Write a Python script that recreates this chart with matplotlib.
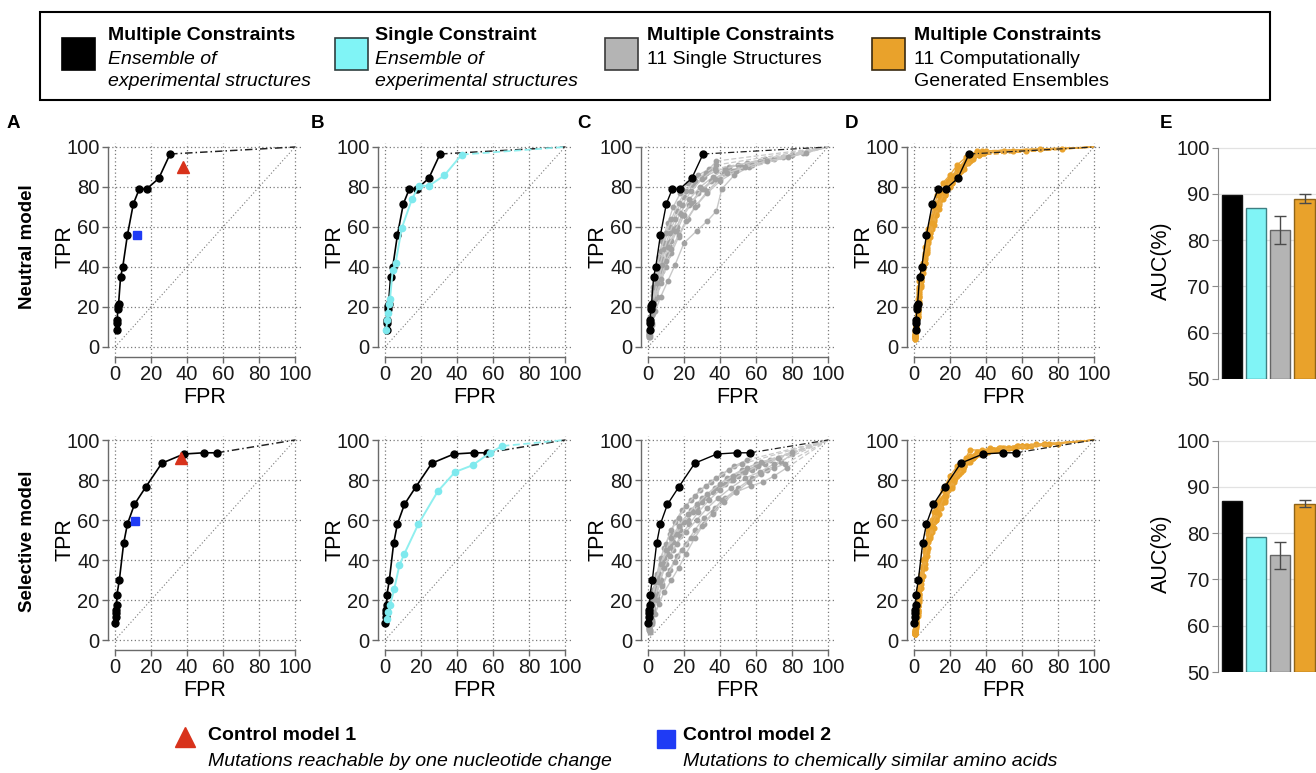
import matplotlib
matplotlib.use("Agg")
import matplotlib.pyplot as plt
import matplotlib.patches as patches
from matplotlib.lines import Line2D

plt.rcParams['font.family'] = ['Liberation Sans', 'DejaVu Sans']

W, H = 1316, 773

# ---------------- data ----------------
TICKS = [0, 20, 40, 60, 80, 100]
END_POINT = (100, 100)

# Multiple constraints, ensemble of experimental structures (black)
BLACK_NEU_FPR = [0.9, 1.1, 1.3, 1.5, 1.8, 2.0, 3.1, 4.3, 6.9, 10.2, 13.5, 17.6, 24.3, 30.6]
BLACK_NEU_TPR = [8.7, 12.0, 13.7, 19.2, 20.4, 21.7, 35.0, 40.0, 56.0, 71.6, 79.0, 79.0, 84.3, 96.5]
BLACK_SEL_FPR = [0.2, 0.4, 0.6, 0.7, 0.9, 1.1, 2.4, 4.8, 6.9, 10.8, 17.1, 26.0, 38.3, 49.3, 56.7]
BLACK_SEL_TPR = [8.6, 11.4, 13.4, 14.8, 17.3, 22.7, 29.9, 48.3, 58.0, 67.8, 76.5, 88.4, 93.0, 93.6, 93.6]

# Single constraint (cyan)
CYAN_NEU_FPR = [0.6, 1.3, 1.5, 2.0, 2.8, 4.3, 5.9, 9.3, 15.0, 18.9, 24.4, 33.0, 42.6]
CYAN_NEU_TPR = [8.7, 13.4, 17.0, 21.7, 24.2, 38.5, 42.0, 59.4, 74.0, 80.6, 80.6, 85.8, 96.2]
CYAN_SEL_FPR = [1.3, 1.9, 2.8, 5.2, 8.0, 10.7, 18.5, 29.3, 38.9, 48.7, 58.3, 65.2]
CYAN_SEL_TPR = [10.6, 13.9, 17.3, 25.7, 37.4, 43.0, 57.9, 74.3, 84.0, 87.4, 93.6, 97.0]

# Control models (red triangle, blue square)
CTRL1_NEU = (38.0, 90.0)
CTRL2_NEU = (12.4, 56.0)
CTRL1_SEL = (36.8, 90.8)
CTRL2_SEL = (11.0, 59.4)

# Multiple constraints, 11 single structures (gray)
GRAY_NEU_FPR = [
    [0.5, 1, 2, 3, 4, 6, 8, 11, 14, 18, 22, 28, 34, 38],
    [0.5, 1, 2, 3, 5, 7, 9, 12, 16, 20, 25, 31, 38, 45, 55, 65, 75, 86],
    [0.5, 1, 2, 4, 6, 8, 11, 14, 18, 23, 29, 36, 43, 50],
    [0.5, 1, 2, 4, 6, 9, 12, 16, 20, 25, 31, 37, 44],
    [1, 2, 4, 7, 11, 15, 20, 27, 33, 38, 41, 48, 56],
    [0.5, 1, 3, 5, 8, 11, 13, 16, 19, 23, 28, 35, 42, 52, 62],
    [0.5, 1, 2, 3, 5, 7, 10, 13, 17, 21, 26, 32, 38],
    [1, 2, 3, 5, 7, 10, 13, 17, 22, 27, 33, 40, 47, 58, 70, 80],
    [0.5, 1, 2, 4, 6, 9, 12, 15, 19, 24, 30, 37],
    [0.5, 1, 2, 4, 7, 10, 13, 17, 21, 26, 33, 40, 49],
    [1, 2, 3, 5, 8, 11, 15, 19, 24, 30, 37, 44, 54, 66, 78, 88],
]
GRAY_NEU_TPR = [
    [7, 13, 21, 28, 35, 45, 53, 62, 70, 77, 82, 86, 89, 93],
    [6, 12, 19, 26, 36, 44, 52, 60, 68, 75, 81, 85, 88, 90, 92, 94, 95, 97],
    [5, 10, 17, 27, 36, 44, 52, 59, 67, 74, 80, 85, 89, 91],
    [6, 11, 18, 26, 33, 42, 50, 58, 66, 73, 79, 84, 88],
    [6, 12, 18, 25, 33, 41, 52, 58, 63, 68, 79, 86, 90],
    [7, 14, 22, 30, 38, 46, 53, 60, 66, 71, 77, 83, 87, 90, 93],
    [8, 15, 22, 30, 40, 48, 57, 64, 72, 78, 83, 87, 91],
    [5, 11, 17, 25, 32, 40, 47, 55, 64, 71, 78, 84, 88, 91, 94, 96],
    [6, 12, 20, 30, 39, 49, 57, 64, 71, 78, 84, 89],
    [5, 10, 16, 24, 34, 43, 49, 56, 63, 70, 77, 83, 88],
    [9, 16, 23, 32, 41, 50, 58, 66, 72, 79, 84, 87, 90, 93, 95, 97],
]
GRAY_SEL_FPR = [
    [0.5, 1, 2, 3, 5, 7, 9, 12, 15, 19, 24, 29, 35, 41, 48, 55],
    [0.5, 1, 2, 4, 6, 8, 11, 14, 18, 22, 27, 33, 39, 46, 53, 60, 68],
    [1, 2, 3, 5, 8, 12, 16, 21, 26, 31, 37, 43, 50, 58, 66, 74, 80],
    [1, 2, 4, 6, 9, 13, 17, 21, 26, 31, 36, 41, 49, 57, 64, 70, 77],
    [0.5, 1, 2, 3, 5, 7, 10, 13, 17, 21, 26, 32, 38, 45, 52],
    [0.5, 1, 2, 4, 6, 9, 12, 16, 20, 25, 30, 36, 43, 50, 58, 65, 73],
    [1, 2, 3, 5, 7, 10, 14, 18, 23, 28, 34, 40, 47, 54, 61],
    [0.5, 1, 2, 4, 6, 9, 12, 16, 21, 27, 33, 39, 46, 54, 62, 70],
    [0.5, 1, 2, 3, 5, 8, 11, 15, 19, 24, 30, 37, 44, 52, 60],
    [1, 2, 3, 5, 8, 11, 15, 19, 24, 30, 36, 42, 49, 56, 63, 70, 76],
    [0.5, 1, 2, 4, 7, 10, 13, 17, 22, 27, 33, 40, 47, 55, 63, 72, 80],
]
GRAY_SEL_TPR = [
    [6, 11, 18, 24, 32, 40, 46, 53, 59, 65, 70, 75, 79, 83, 87, 90],
    [5, 10, 16, 24, 31, 37, 43, 49, 55, 60, 66, 71, 76, 80, 84, 87, 90],
    [4, 9, 14, 21, 28, 35, 42, 48, 55, 61, 66, 71, 76, 81, 85, 89, 93],
    [4, 8, 13, 18, 24, 30, 36, 43, 51, 58, 64, 70, 74, 77, 79, 82, 86],
    [7, 12, 19, 25, 33, 41, 48, 55, 61, 67, 72, 77, 81, 85, 88],
    [6, 12, 17, 26, 33, 41, 47, 53, 59, 64, 69, 74, 78, 82, 85, 88, 91],
    [5, 10, 16, 23, 30, 38, 45, 52, 58, 64, 70, 75, 80, 84, 87],
    [5, 9, 15, 22, 29, 36, 42, 48, 54, 60, 66, 71, 76, 81, 84, 88],
    [6, 11, 17, 23, 31, 39, 46, 53, 59, 65, 71, 76, 81, 85, 88],
    [5, 9, 14, 20, 27, 33, 39, 45, 51, 57, 63, 69, 74, 79, 83, 86, 88],
    [7, 13, 20, 29, 38, 45, 51, 57, 63, 68, 73, 78, 82, 86, 89, 91, 94],
]

# Multiple constraints, 11 computationally generated ensembles (orange)
ORANGE_NEU_FPR = [
    [0.5, 1, 2, 3, 4, 6, 8, 10, 13, 16, 20, 25, 30, 35],
    [0.5, 1, 2, 3, 5, 7, 9, 12, 15, 19, 23, 28, 33, 38],
    [0.5, 1, 2, 3, 4, 6, 8, 11, 14, 17, 21, 26, 31, 37],
    [0.5, 1, 2, 4, 5, 7, 9, 11, 14, 18, 22, 27, 32, 38, 50, 62],
    [0.5, 1, 2, 3, 4, 6, 8, 10, 12, 15, 19, 24, 29, 34, 40],
    [0.5, 1, 2, 3, 5, 7, 10, 13, 17, 21, 26, 31, 36],
    [0.5, 1, 2, 3, 4, 6, 9, 12, 15, 18, 22, 27, 33, 39, 55, 70, 82],
    [0.5, 1, 2, 3, 5, 6, 8, 11, 13, 16, 20, 24, 29, 35],
    [0.5, 1, 2, 3, 4, 6, 8, 11, 14, 17, 21, 25, 30, 36],
    [0.5, 1, 2, 3, 5, 7, 9, 12, 16, 20, 24, 28, 33, 39],
    [0.5, 1, 2, 3, 4, 6, 8, 10, 13, 17, 22, 27, 32, 37],
]
ORANGE_NEU_TPR = [
    [5, 10, 18, 27, 35, 46, 56, 64, 72, 78, 84, 90, 95, 97],
    [6, 12, 21, 30, 40, 50, 59, 67, 75, 81, 86, 91, 95, 98],
    [4, 9, 16, 25, 33, 44, 53, 63, 71, 77, 83, 89, 94, 97],
    [7, 13, 22, 33, 40, 49, 57, 64, 72, 79, 85, 90, 94, 97, 98, 98],
    [5, 11, 19, 28, 36, 47, 57, 65, 71, 77, 83, 89, 93, 96, 98],
    [6, 10, 17, 25, 37, 47, 59, 69, 76, 82, 88, 93, 96],
    [5, 9, 15, 22, 30, 42, 55, 66, 74, 80, 85, 90, 95, 97, 98, 99, 99],
    [8, 14, 24, 33, 42, 50, 59, 70, 76, 82, 86, 91, 95, 98],
    [4, 8, 15, 23, 31, 42, 52, 61, 69, 76, 82, 87, 92, 96],
    [6, 11, 20, 29, 39, 48, 57, 66, 74, 80, 85, 89, 94, 97],
    [5, 10, 18, 26, 34, 45, 54, 62, 70, 77, 84, 89, 94, 97],
]
ORANGE_SEL_FPR = [
    [0.5, 1, 2, 3, 4, 6, 8, 10, 13, 16, 20, 25, 31, 37, 45, 55, 65],
    [0.5, 1, 2, 3, 5, 7, 9, 12, 15, 19, 23, 28, 34, 41, 50, 60, 72],
    [0.5, 1, 2, 3, 4, 6, 8, 11, 14, 17, 21, 26, 31, 38, 47, 58],
    [0.5, 1, 2, 4, 5, 7, 9, 11, 14, 18, 22, 27, 32, 39, 48, 57, 68, 80],
    [0.5, 1, 2, 3, 4, 6, 8, 10, 12, 15, 19, 24, 29, 35, 43],
    [0.5, 1, 2, 3, 5, 7, 10, 13, 17, 21, 26, 31, 37, 44, 52, 62],
    [0.5, 1, 2, 3, 4, 6, 9, 12, 15, 18, 22, 27, 33, 40, 49, 60, 73],
    [0.5, 1, 2, 3, 5, 6, 8, 11, 13, 16, 20, 24, 29, 35, 42],
    [0.5, 1, 2, 3, 4, 6, 8, 11, 14, 17, 21, 25, 30, 36, 44, 53, 63, 75],
    [0.5, 1, 2, 3, 5, 7, 9, 12, 16, 20, 24, 28, 33, 39],
    [0.5, 1, 2, 3, 4, 6, 8, 10, 13, 17, 22, 27, 32, 38, 46, 56],
]
ORANGE_SEL_TPR = [
    [3, 7, 14, 22, 30, 40, 49, 57, 64, 71, 79, 86, 92, 94, 95, 96, 97],
    [4, 9, 17, 25, 36, 45, 53, 61, 68, 75, 81, 87, 92, 94, 96, 97, 98],
    [3, 8, 15, 23, 31, 41, 50, 59, 66, 72, 79, 86, 95, 95, 96, 97],
    [5, 10, 19, 30, 37, 46, 54, 60, 66, 73, 80, 86, 91, 94, 96, 97, 98, 98],
    [4, 9, 17, 26, 33, 44, 53, 60, 65, 70, 78, 85, 90, 93, 95],
    [3, 7, 13, 20, 32, 42, 54, 62, 70, 77, 84, 89, 93, 95, 96, 97],
    [4, 8, 14, 21, 28, 38, 51, 60, 66, 72, 79, 85, 91, 94, 96, 97, 98],
    [5, 11, 20, 29, 40, 46, 55, 64, 69, 75, 82, 87, 91, 94, 96],
    [3, 6, 12, 19, 26, 36, 46, 56, 63, 69, 76, 83, 89, 93, 95, 96, 97, 98],
    [4, 9, 17, 25, 36, 44, 52, 60, 69, 76, 82, 87, 91, 94],
    [4, 8, 15, 23, 30, 41, 50, 57, 64, 72, 80, 86, 91, 94, 95, 96],
]

# AUC bar chart (E)
AUC_GROUPS = ['Multiple/experimental', 'Single/experimental', 'Multiple/single structures', 'Multiple/generated']
AUC_NEU = [89.8, 87.0, 82.2, 89.0]
AUC_NEU_ERR = [0, 0, 3.0, 0.9]
AUC_SEL = [87.0, 79.2, 75.2, 86.4]
AUC_SEL_ERR = [0, 0, 3.0, 0.7]
AUC_TICKS = [50, 60, 70, 80, 90, 100]

# ---------------- style ----------------
C_BLACK = '#000000'
C_CYAN = '#80F4F6'
C_CYAN_LINE = '#8FEFEF'
C_GRAY = '#B4B4B4'
C_GRAY_MK = '#A2A2A2'
C_GRAY_LINE = '#C8C8C8'
C_ORANGE = '#E9A22B'
C_ORANGE_LINE = '#EBAA40'
C_RED = '#D8321B'
C_BLUE = '#1F3BF5'
GRID_STYLE = (0, (1, 2))
TICK_FS = 14.5
LABEL_FS = 15.5


def frect(left, top, width, height):
    return [left / W, 1 - (top + height) / H, width / W, height / H]


def style_roc(ax):
    ax.set_xlim(-4, 104)
    ax.set_ylim(-5, 102)
    ax.set_xticks(TICKS)
    ax.set_yticks(TICKS)
    ax.grid(True, linestyle=GRID_STYLE, color='#7a7a7a', linewidth=0.9)
    ax.set_axisbelow(True)
    ax.plot([0, END_POINT[0]], [0, END_POINT[1]], linestyle=GRID_STYLE,
            color='#7a7a7a', linewidth=0.8, zorder=1)
    for s in ['top', 'right']:
        ax.spines[s].set_visible(False)
    for s in ['left', 'bottom']:
        ax.spines[s].set_color('#6a6a6a')
        ax.spines[s].set_linewidth(1.0)
        ax.spines[s].set_bounds(0, 100)
    ax.tick_params(direction='out', length=4, width=1, color='#6a6a6a',
                   labelsize=TICK_FS, labelcolor='#1a1a1a', pad=2)
    ax.set_ylabel('TPR', fontsize=LABEL_FS)
    ax.set_xlabel('FPR', fontsize=LABEL_FS)
    ax.yaxis.label.set_va('center')
    ax.xaxis.label.set_va('center')
    ax.yaxis.set_label_coords(-0.22, 0.514)
    ax.xaxis.set_label_coords(0.5, -0.19)


def draw_curve(ax, fpr, tpr, line, mark, ms, lw, ext, z):
    ax.plot([fpr[-1], END_POINT[0]], [tpr[-1], END_POINT[1]], linestyle=ext,
            color=line if line != C_BLACK else '#222222', linewidth=lw * 0.9, zorder=z)
    ax.plot(fpr, tpr, '-', color=line, linewidth=lw, marker='o', ms=ms,
            mfc=mark, mec=mark, zorder=z)


fig = plt.figure(figsize=(W / 100, H / 100), dpi=100)

# ROC panel geometry: pixel position of data 0 in each column / row
col_x0 = [115, 385, 648, 914]
row_y0 = [347, 640]
black_sets = [(BLACK_NEU_FPR, BLACK_NEU_TPR), (BLACK_SEL_FPR, BLACK_SEL_TPR)]
cyan_sets = [(CYAN_NEU_FPR, CYAN_NEU_TPR), (CYAN_SEL_FPR, CYAN_SEL_TPR)]
gray_sets = [(GRAY_NEU_FPR, GRAY_NEU_TPR), (GRAY_SEL_FPR, GRAY_SEL_TPR)]
orange_sets = [(ORANGE_NEU_FPR, ORANGE_NEU_TPR), (ORANGE_SEL_FPR, ORANGE_SEL_TPR)]
ctrl_sets = [(CTRL1_NEU, CTRL2_NEU), (CTRL1_SEL, CTRL2_SEL)]
black_ext = (0, (5, 2, 1, 2))

for r, y0 in enumerate(row_y0):
    bf, bt = black_sets[r]
    for c, x0 in enumerate(col_x0):
        ax = fig.add_axes(frect(x0 - 7.2, y0 - 204, 194.4, 214))
        style_roc(ax)
        if c == 0:
            draw_curve(ax, bf, bt, C_BLACK, C_BLACK, 5, 1.2, black_ext, 3)
            t, s = ctrl_sets[r]
            ax.plot(*t, marker='^', ms=8, color=C_RED, mec=C_RED, zorder=5, linestyle='none')
            ax.plot(*s, marker='s', ms=6, color=C_BLUE, mec=C_BLUE, zorder=5, linestyle='none')
        elif c == 1:
            draw_curve(ax, bf, bt, C_BLACK, C_BLACK, 5, 1.2, black_ext, 3)
            cf, ct = cyan_sets[r]
            draw_curve(ax, cf, ct, C_CYAN_LINE, '#7EE9EE', 4.5, 1.4, (0, (4, 2)), 4)
        elif c == 2:
            gf, gt = gray_sets[r]
            for f, t in zip(gf, gt):
                draw_curve(ax, f, t, C_GRAY_LINE, C_GRAY_MK, 3.2, 1.0, (0, (4, 2)), 2)
            draw_curve(ax, bf, bt, C_BLACK, C_BLACK, 5, 1.0, black_ext, 3)
        else:
            of, ot = orange_sets[r]
            for f, t in zip(of, ot):
                draw_curve(ax, f, t, C_ORANGE_LINE, C_ORANGE, 3.4, 1.0, (0, (4, 2)), 2)
            draw_curve(ax, bf, bt, C_BLACK, C_BLACK, 5, 1.0, black_ext, 3)

# AUC bars (E)
bar_colors = [C_BLACK, C_CYAN, C_GRAY, C_ORANGE]
bar_edges = ['#111111', '#3f7f82', '#666666', '#8f6418']
auc_sets = [(AUC_NEU, AUC_NEU_ERR), (AUC_SEL, AUC_SEL_ERR)]
e_rows = [(143, 379), (436, 672)]
for (vals, errs), (top, bottom) in zip(auc_sets, e_rows):
    ax = fig.add_axes(frect(1218, top, 130, bottom - top))
    x = list(range(len(vals)))
    ax.bar(x, [v - 50 for v in vals], bottom=50, width=0.83, color=bar_colors,
           edgecolor=bar_edges, linewidth=1.0, zorder=3)
    for xi, v, e in zip(x, vals, errs):
        if e > 0:
            ax.errorbar(xi, v, yerr=e, color='#4a4a4a', capsize=4, elinewidth=1.0,
                        capthick=1.0, zorder=4)
    ax.set_xlim(-0.58, 4.8)
    ax.set_ylim(50, 101)
    ax.set_yticks(AUC_TICKS)
    ax.set_xticks([])
    ax.grid(True, axis='y', color='#e2e2e2', linewidth=0.9)
    ax.set_axisbelow(True)
    for s in ['top', 'right', 'bottom']:
        ax.spines[s].set_visible(False)
    ax.spines['left'].set_color('#8a8a8a')
    ax.spines['left'].set_bounds(50, 100)
    ax.tick_params(axis='y', direction='out', length=4, color='#8a8a8a',
                   labelsize=TICK_FS, labelcolor='#1a1a1a', pad=2)
    ax.set_ylabel('AUC(%)', fontsize=15.5, labelpad=3)

# panel letters and row labels
for letter, px in zip('ABCDE', [13, 318, 584, 852, 1166]):
    fig.text(px / W, 1 - 123 / H, letter, fontsize=13.5, fontweight='bold',
             ha='center', va='center')
fig.text(28 / W, 1 - 247 / H, 'Neutral model', rotation=90, fontsize=13.5,
         fontweight='bold', ha='center', va='center')
fig.text(28 / W, 1 - 541 / H, 'Selective model', rotation=90, fontsize=13.5,
         fontweight='bold', ha='center', va='center')

# top legend box
fig.patches.append(patches.Rectangle((40 / W, 1 - 100 / H), 1230 / W, 88 / H,
                                     transform=fig.transFigure, fill=False,
                                     edgecolor='black', linewidth=1.5))
legend_items = [
    (62, 108, C_BLACK, '#000000', 'Multiple Constraints', ['Ensemble of', 'experimental structures'], 'italic'),
    (335, 375, C_CYAN, '#2f3f40', 'Single Constraint', ['Ensemble of', 'experimental structures'], 'italic'),
    (605, 647, C_GRAY, '#3a3a3a', 'Multiple Constraints', ['11 Single Structures'], 'normal'),
    (872, 914, C_ORANGE, '#3a2a10', 'Multiple Constraints', ['11 Computationally', 'Generated Ensembles'], 'normal'),
]
for sx, tx, fc, ec, title, lines, style in legend_items:
    fig.patches.append(patches.Rectangle((sx / W, 1 - 70 / H), 33 / W, 32 / H,
                                         transform=fig.transFigure, facecolor=fc,
                                         edgecolor=ec, linewidth=1.2))
    fig.text(tx / W, 1 - 35 / H, title, fontsize=14, fontweight='bold', va='center')
    for i, ln in enumerate(lines):
        fig.text(tx / W, 1 - (59 + 22 * i) / H, ln, fontsize=14, style=style, va='center')

# bottom legend (control models)
fig.add_artist(Line2D([185 / W], [1 - 737 / H], marker='^', ms=14, color=C_RED,
                      linestyle='none', transform=fig.transFigure))
fig.add_artist(Line2D([666 / W], [1 - 739 / H], marker='s', ms=13, color=C_BLUE,
                      linestyle='none', transform=fig.transFigure))
fig.text(208 / W, 1 - 735 / H, 'Control model 1', fontsize=14, fontweight='bold', va='center')
fig.text(208 / W, 1 - 762 / H, 'Mutations reachable by one nucleotide change', fontsize=14,
         style='italic', va='center')
fig.text(683 / W, 1 - 735 / H, 'Control model 2', fontsize=14, fontweight='bold', va='center')
fig.text(683 / W, 1 - 762 / H, 'Mutations to chemically similar amino acids', fontsize=14,
         style='italic', va='center')

fig.savefig('out.png', dpi=100)
